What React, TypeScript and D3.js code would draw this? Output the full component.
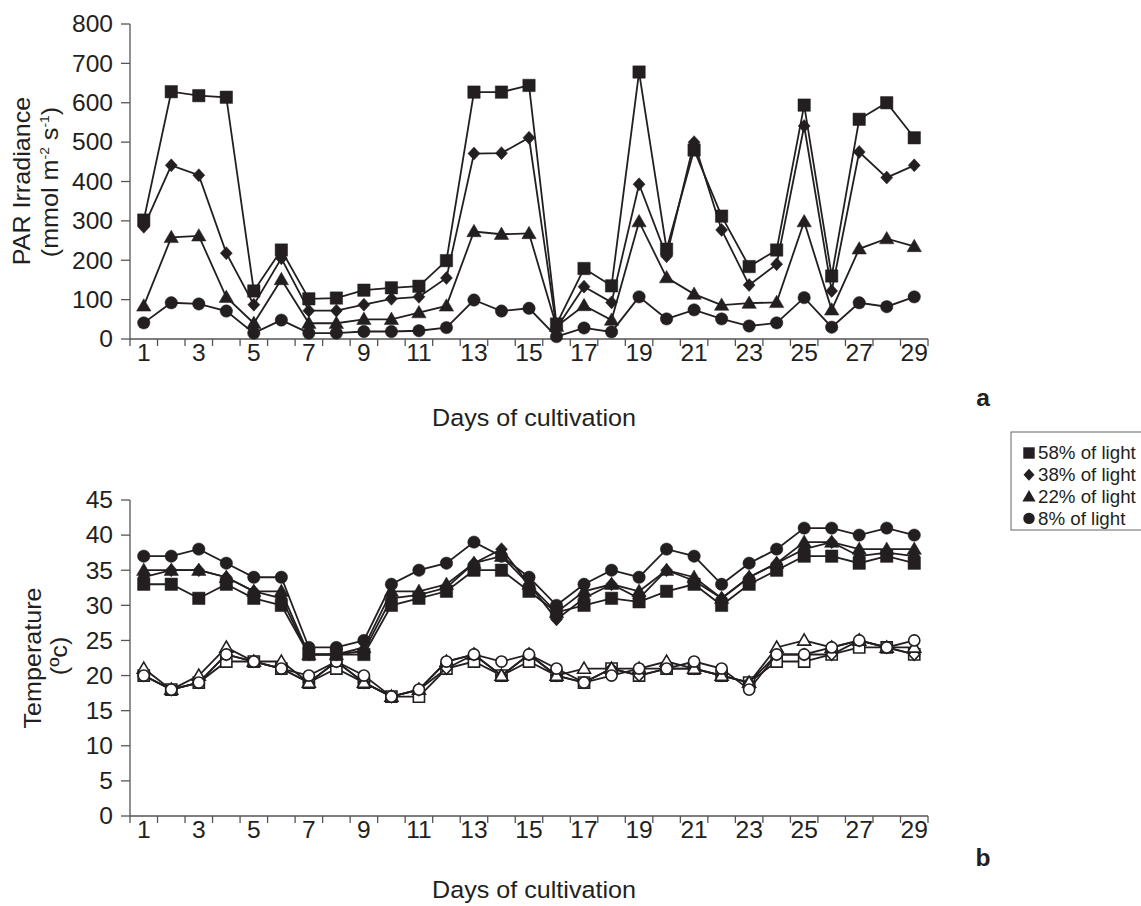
import React from 'react';
import * as d3 from 'd3';

const days = [1, 2, 3, 4, 5, 6, 7, 8, 9, 10, 11, 12, 13, 14, 15, 16, 17, 18, 19, 20, 21, 22, 23, 24, 25, 26, 27, 28, 29];
const dayLabels = [1, 3, 5, 7, 9, 11, 13, 15, 17, 19, 21, 23, 25, 27, 29];
const parTicks = [0, 100, 200, 300, 400, 500, 600, 700, 800];
const tempTicks = [0, 5, 10, 15, 20, 25, 30, 35, 40, 45];

// PAR irradiance
const par58 = [302, 628, 618, 614, 122, 226, 102, 104, 124, 130, 134, 199, 627, 627, 644, 38, 179, 135, 678, 228, 480, 312, 184, 226, 594, 160, 558, 600, 511];
const par38 = [285, 441, 416, 218, 87, 205, 72, 72, 87, 102, 107, 155, 471, 472, 511, 28, 133, 93, 393, 210, 500, 277, 137, 190, 541, 122, 475, 410, 441];
const par22 = [84, 258, 262, 106, 40, 151, 40, 40, 50, 50, 67, 84, 273, 266, 268, 32, 85, 48, 298, 156, 114, 86, 91, 93, 298, 74, 229, 255, 235];
const par8 = [41, 92, 89, 71, 15, 48, 15, 15, 19, 19, 21, 29, 99, 71, 78, 6, 28, 18, 107, 51, 74, 51, 33, 41, 105, 30, 92, 82, 107];

// Temperature, daily maximum (filled markers)
const tmax58 = [33, 33, 31, 33, 31, 30, 23, 23, 23, 30, 31, 32, 35, 35, 32, 29, 30, 31, 30.5, 32, 33, 30, 33, 35, 37, 37, 36, 37, 36];
const tmax38 = [34, 35, 35, 34, 32, 31, 23, 23, 23.5, 31, 31.5, 32.5, 36, 38, 33, 28, 31, 33, 31, 35, 33.5, 31, 34, 36, 38, 39, 37, 37.5, 37];
const tmax22 = [35, 35, 35, 34, 32, 32, 23, 23, 24, 32, 32, 33, 36, 37, 33, 29, 32, 33, 32, 35, 34, 31, 34, 36, 39, 39, 38, 38, 38];
const tmax8 = [37, 37, 38, 36, 34, 34, 24, 24, 25, 33, 35, 36, 39, 37, 34, 30, 33, 35, 34, 38, 37, 33, 36, 38, 41, 41, 40, 41, 40];

// Temperature, daily minimum (open markers)
const tmin58 = [20, 18, 19, 22, 22, 21, 19, 21, 19, 17, 17, 21, 22, 20, 22, 20, 19, 21, 20, 21, 21, 20, 19, 22, 22, 23, 24, 24, 23];
const tmin38 = [20, 18, 19, 23, 22, 21, 19, 22, 19, 17, 18, 21, 23, 20, 23, 20, 19, 21, 20, 21, 21, 20, 19, 23, 23, 23, 25, 24, 23];
const tmin22 = [21, 18, 20, 24, 22, 22, 19, 22, 19, 17, 18, 22, 23, 20, 23, 20, 21, 21, 21, 22, 21, 20, 19, 24, 25, 24, 25, 24, 24];
const tmin8 = [20, 18, 19, 23, 22, 21, 20, 22, 20, 17, 18, 22, 23, 22, 23, 21, 19, 20, 21, 21, 22, 21, 18, 23, 23, 24, 25, 24, 25];

const legendNames = ['58% of light', '38% of light', '22% of light', '8% of light'];
const shapes = ['square', 'diamond', 'triangle', 'circle'];

const ink = '#231f20';
const font = '"Liberation Sans", Arial, sans-serif';
const stretch = 1.07;

const markerPath = (shape: string, s = 1) => {
  switch (shape) {
    case 'square':
      return `M${-6.2 * s},${-6.2 * s}h${12.4 * s}v${12.4 * s}h${-12.4 * s}Z`;
    case 'diamond':
      return `M0,${-6.5 * s}L${6 * s},0L0,${6.5 * s}L${-6 * s},0Z`;
    case 'triangle':
      return `M0,${-7.2 * s}L${7.2 * s},${5.2 * s}L${-7.2 * s},${5.2 * s}Z`;
    default:
      return `M${6.2 * s},0A${6.2 * s},${6.2 * s} 0 1,1 ${-6.2 * s},0A${6.2 * s},${6.2 * s} 0 1,1 ${6.2 * s},0Z`;
  }
};

// text with the slightly wide letterforms of the original
const T = ({ x, y, size, anchor = 'start', rotate = 0, weight = 'normal', dy, children }: any) => (
  <text
    transform={`translate(${x},${y})${rotate ? ` rotate(${rotate})` : ''} scale(${stretch},1)`}
    textAnchor={anchor}
    fontSize={size}
    fontWeight={weight}
    dy={dy}
    fill={ink}
  >
    {children}
  </text>
);

const x = d3.scaleBand<number>().domain(days).range([130, 928]);
const xc = (d: number) => (x(d) as number) + x.bandwidth() / 2;

type Series = { shape: string; values: number[]; open?: boolean };

const Panel = ({ y, ticks, series, top, bottom }: { y: d3.ScaleLinear<number, number>; ticks: number[]; series: Series[]; top: number; bottom: number }) => {
  const boundaries = [...days.map((d) => x(d) as number), 928];
  return (
    <g>
      <line x1={130} x2={130} y1={top} y2={bottom} stroke="#555" strokeWidth={1.3} />
      <line x1={130} x2={928} y1={bottom} y2={bottom} stroke="#555" strokeWidth={1.3} />
      {ticks.map((t) => (
        <g key={t}>
          <line x1={121} x2={130} y1={y(t)} y2={y(t)} stroke="#555" strokeWidth={1.3} />
          <T x={113} y={y(t)} dy="0.36em" anchor="end" size={23}>
            {t}
          </T>
        </g>
      ))}
      {boundaries.map((b, i) => (
        <line key={i} x1={b} x2={b} y1={bottom} y2={bottom + 7} stroke="#555" strokeWidth={1.3} />
      ))}
      {dayLabels.map((d) => (
        <T key={d} x={xc(d)} y={bottom + 22} anchor="middle" size={23}>
          {d}
        </T>
      ))}
      {series.map((s, i) => {
        const line = d3
          .line<number>()
          .x((_, j) => xc(days[j]))
          .y((v) => y(v));
        return (
          <g key={i}>
            <path d={line(s.values) as string} fill="none" stroke={ink} strokeWidth={1.8} />
            {s.values.map((v, j) => (
              <path
                key={j}
                transform={`translate(${xc(days[j])},${y(v)})`}
                d={markerPath(s.shape, s.open ? 0.9 : 1)}
                fill={s.open ? '#fff' : ink}
                stroke={ink}
                strokeWidth={s.open ? 1.6 : 0.5}
              />
            ))}
          </g>
        );
      })}
    </g>
  );
};

export default function App() {
  const yPar = d3.scaleLinear().domain([0, 800]).range([339, 24]);
  const yTemp = d3.scaleLinear().domain([0, 45]).range([816, 500]);

  const parSeries: Series[] = [
    { shape: 'circle', values: par8 },
    { shape: 'triangle', values: par22 },
    { shape: 'diamond', values: par38 },
    { shape: 'square', values: par58 },
  ];
  const tempSeries: Series[] = [
    { shape: 'square', values: tmin58, open: true },
    { shape: 'diamond', values: tmin38, open: true },
    { shape: 'triangle', values: tmin22, open: true },
    { shape: 'circle', values: tmin8, open: true },
    { shape: 'square', values: tmax58 },
    { shape: 'diamond', values: tmax38 },
    { shape: 'triangle', values: tmax22 },
    { shape: 'circle', values: tmax8 },
  ];

  return (
    <svg
      width={1141}
      height={906}
      style={{ position: 'absolute', left: 0, top: 0, background: '#fff', fontFamily: font }}
    >
      <rect width={1141} height={906} fill="#fff" />
      <Panel y={yPar} ticks={parTicks} series={parSeries} top={24} bottom={339} />
      <Panel y={yTemp} ticks={tempTicks} series={tempSeries} top={500} bottom={816} />

      <T x={534} y={426} anchor="middle" size={23.5}>
        Days of cultivation
      </T>
      <T x={534} y={898} anchor="middle" size={23.5}>
        Days of cultivation
      </T>
      <T x={30} y={181} rotate={-90} anchor="middle" size={23.5}>
        PAR Irradiance
      </T>
      <T x={58} y={182} rotate={-90} anchor="middle" size={23.5}>
        (mmol m<tspan fontSize={13} dy={-9}>-2</tspan>
        <tspan dy={9}> s</tspan>
        <tspan fontSize={13} dy={-9}>-1</tspan>
        <tspan dy={9}>)</tspan>
      </T>
      <T x={41} y={658} rotate={-90} anchor="middle" size={23.5}>
        Temperature
      </T>
      <T x={67} y={656} rotate={-90} anchor="middle" size={23.5}>
        (ºc)
      </T>

      <T x={983} y={406} anchor="middle" size={23} weight="bold">
        a
      </T>
      <T x={983} y={866} anchor="middle" size={23} weight="bold">
        b
      </T>

      <rect x={1011} y={432} width={140} height={98} fill="#fff" stroke="#666" strokeWidth={1} />
      {legendNames.map((name, i) => (
        <g key={name}>
          <path transform={`translate(1029,${453 + i * 21.8})`} d={markerPath(shapes[i], 0.92)} fill={ink} />
          <T x={1038} y={453 + i * 21.8} dy="0.36em" size={17.5}>
            {name}
          </T>
        </g>
      ))}
    </svg>
  );
}
